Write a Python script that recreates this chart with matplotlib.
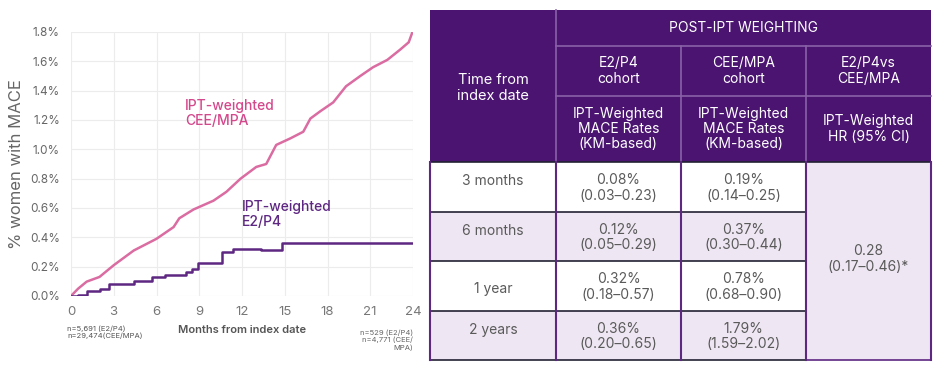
import matplotlib.pyplot as plt
import matplotlib.patches as patches

plt.rcParams['font.family'] = ['Inter', 'DejaVu Sans']

# curve data (months, % women with MACE)
cee_months = [0, 0.5, 1.1, 2.0, 3.0, 4.4, 6.0, 7.2, 7.6, 8.6, 10.0, 10.9, 11.9, 13.0, 13.7,
              14.4, 15.4, 16.3, 16.8, 17.5, 18.4, 19.3, 20.3, 21.2, 22.2, 23.1, 23.7, 24.0]
cee_values = [0, 0.05, 0.098, 0.13, 0.21, 0.31, 0.39, 0.47, 0.53, 0.59, 0.65, 0.71, 0.80, 0.88, 0.90,
              1.03, 1.075, 1.12, 1.21, 1.26, 1.32, 1.43, 1.50, 1.56, 1.61, 1.68, 1.73, 1.81]
e2_months = [0, 0.5, 1.1, 2.0, 2.7, 4.4, 5.7, 6.6, 8.1, 8.5, 8.9, 10.6, 11.4, 13.3, 14.8, 24.0]
e2_values = [0, 0.01, 0.035, 0.05, 0.085, 0.105, 0.13, 0.145, 0.165, 0.185, 0.225, 0.30, 0.32, 0.315, 0.36, 0.36]

x_ticks = [0, 3, 6, 9, 12, 15, 18, 21, 24]
y_ticks = [0, 0.2, 0.4, 0.6, 0.8, 1.0, 1.2, 1.4, 1.6, 1.8]

# table data
row_labels = ['3 months', '6 months', '1 year', '2 years']
e2_rates = ['0.08%\n(0.03\u20130.23)', '0.12%\n(0.05\u20130.29)', '0.32%\n(0.18\u20130.57)', '0.36%\n(0.20\u20130.65)']
cee_rates = ['0.19%\n(0.14\u20130.25)', '0.37%\n(0.30\u20130.44)', '0.78%\n(0.68\u20130.90)', '1.79%\n(1.59\u20132.02)']
hr_text = '0.28\n(0.17\u20130.46)*'
sub_heads = ['E2/P4\ncohort', 'CEE/MPA\ncohort', 'E2/P4vs\nCEE/MPA']
measure_heads = ['IPT-Weighted\nMACE Rates\n(KM-based)', 'IPT-Weighted\nMACE Rates\n(KM-based)', 'IPT-Weighted\nHR (95% CI)']

pink = '#DA6CA2'
purple = '#5E2782'
hdr = '#4A1470'
lav = '#EEE6F2'
grey = '#5a5a5a'

fig = plt.figure(figsize=(9.4, 3.76), dpi=100)
ax = fig.add_axes([71/940, 1-296/376, 342/940, 264/376])
ax.plot(cee_months, cee_values, color=pink, lw=1.8)
ax.plot(e2_months, e2_values, color=purple, lw=1.8, drawstyle='steps-post')
ax.set_xlim(0, 24)
ax.set_ylim(0, 1.8)
ax.set_xticks(x_ticks)
ax.set_yticks(y_ticks)
ax.set_yticklabels(['%.1f%%' % v for v in y_ticks])
ax.grid(color='#ececec', lw=0.8)
ax.set_axisbelow(True)
for s in ax.spines.values():
    s.set_visible(False)
ax.tick_params(axis='y', length=0, labelsize=8.5, colors='#666666', pad=8)
ax.tick_params(axis='x', length=0, labelsize=9.5, colors='#777777', pad=7)
ax.set_ylabel('% women with MACE', fontsize=12, color='#666666', labelpad=4)
ax.text(0.5, -0.11, 'Months from index date', transform=ax.transAxes, ha='center', va='top',
        fontsize=8, color='#555555', fontweight='semibold')
ax.text(-0.012, -0.11, 'n=5,691 (E2/P4)\nn=29,474(CEE/MPA)', transform=ax.transAxes, ha='left', va='top',
        fontsize=5.5, color='#555555', linespacing=1.2)
ax.text(1.0, -0.125, 'n=529 (E2/P4)\nn=4,771 (CEE/\nMPA)', transform=ax.transAxes, ha='right', va='top',
        fontsize=5.5, color='#666666', linespacing=1.2, multialignment='right')
ax.text(8.0, 1.345, 'IPT-weighted\nCEE/MPA', color='#D4488C', fontsize=10, fontweight='medium',
        va='top', linespacing=1.1)
ax.text(12.0, 0.655, 'IPT-weighted\nE2/P4', color=purple, fontsize=10, fontweight='medium',
        va='top', linespacing=1.1)

# table drawn in pixel coords
tb = fig.add_axes([0, 0, 1, 1])
tb.set_xlim(0, 940)
tb.set_ylim(376, 0)
tb.axis('off')

cols = [430, 556, 681, 806, 931]
hrows = [10, 46, 96, 162]
drows = [162, 212, 261, 311, 360]

tb.add_patch(patches.Rectangle((cols[0], hrows[0]), cols[-1]-cols[0], hrows[-1]-hrows[0], color=hdr, lw=0))
sep = '#8a62a8'
tb.plot([cols[1], cols[1]], [hrows[0], hrows[-1]], color=sep, lw=1.2)
tb.plot([cols[1], cols[-1]], [hrows[1], hrows[1]], color=sep, lw=1.2)
tb.plot([cols[1], cols[-1]], [hrows[2], hrows[2]], color=sep, lw=1.2)
for c in cols[2:4]:
    tb.plot([c, c], [hrows[1], hrows[-1]], color=sep, lw=1.2)

tb.text((cols[0]+cols[1])/2, (hrows[0]+hrows[-1])/2 + 2, 'Time from\nindex date', color='white',
        ha='center', va='center', fontsize=10.5, linespacing=1.15)
tb.text((cols[1]+cols[-1])/2, (hrows[0]+hrows[1])/2, 'POST-IPT WEIGHTING', color='white',
        ha='center', va='center', fontsize=10)
for i in range(3):
    cx = (cols[i+1]+cols[i+2])/2
    tb.text(cx, (hrows[1]+hrows[2])/2, sub_heads[i], color='white', ha='center', va='center',
            fontsize=10, linespacing=1.1)
    tb.text(cx, (hrows[2]+hrows[3])/2, measure_heads[i], color='white', ha='center', va='center',
            fontsize=10, linespacing=1.1)

for r in range(4):
    y0, y1 = drows[r], drows[r+1]
    fill = 'white' if r % 2 == 0 else lav
    tb.add_patch(patches.Rectangle((cols[0], y0), cols[3]-cols[0], y1-y0, color=fill, lw=0))
    tb.text((cols[0]+cols[1])/2, y0 + (y1-y0)*(0.38 if r != 2 else 0.55), row_labels[r], color=grey,
            ha='center', va='center', fontsize=10)
    tb.text((cols[1]+cols[2])/2, (y0+y1)/2 + 1, e2_rates[r], color=grey, ha='center', va='center',
            fontsize=10, linespacing=1.1)
    tb.text((cols[2]+cols[3])/2, (y0+y1)/2 + 1, cee_rates[r], color=grey, ha='center', va='center',
            fontsize=10, linespacing=1.1)
tb.add_patch(patches.Rectangle((cols[3], drows[0]), cols[4]-cols[3], drows[-1]-drows[0], color=lav, lw=0))
tb.text((cols[3]+cols[4])/2, (drows[0]+drows[-1])/2 - 2, hr_text, color=grey, ha='center', va='center',
        fontsize=10, linespacing=1.1)

for y in drows:
    tb.plot([cols[0], cols[3]], [y, y], color='#222233', lw=1.2)
tb.plot([cols[3], cols[4]], [drows[0], drows[0]], color='#222233', lw=1.2)
tb.plot([cols[3], cols[4]], [drows[-1], drows[-1]], color=purple, lw=1.2)
for c in cols:
    tb.plot([c, c], [drows[0], drows[-1]], color=purple, lw=1.5)

fig.savefig('out.png', dpi=100)
